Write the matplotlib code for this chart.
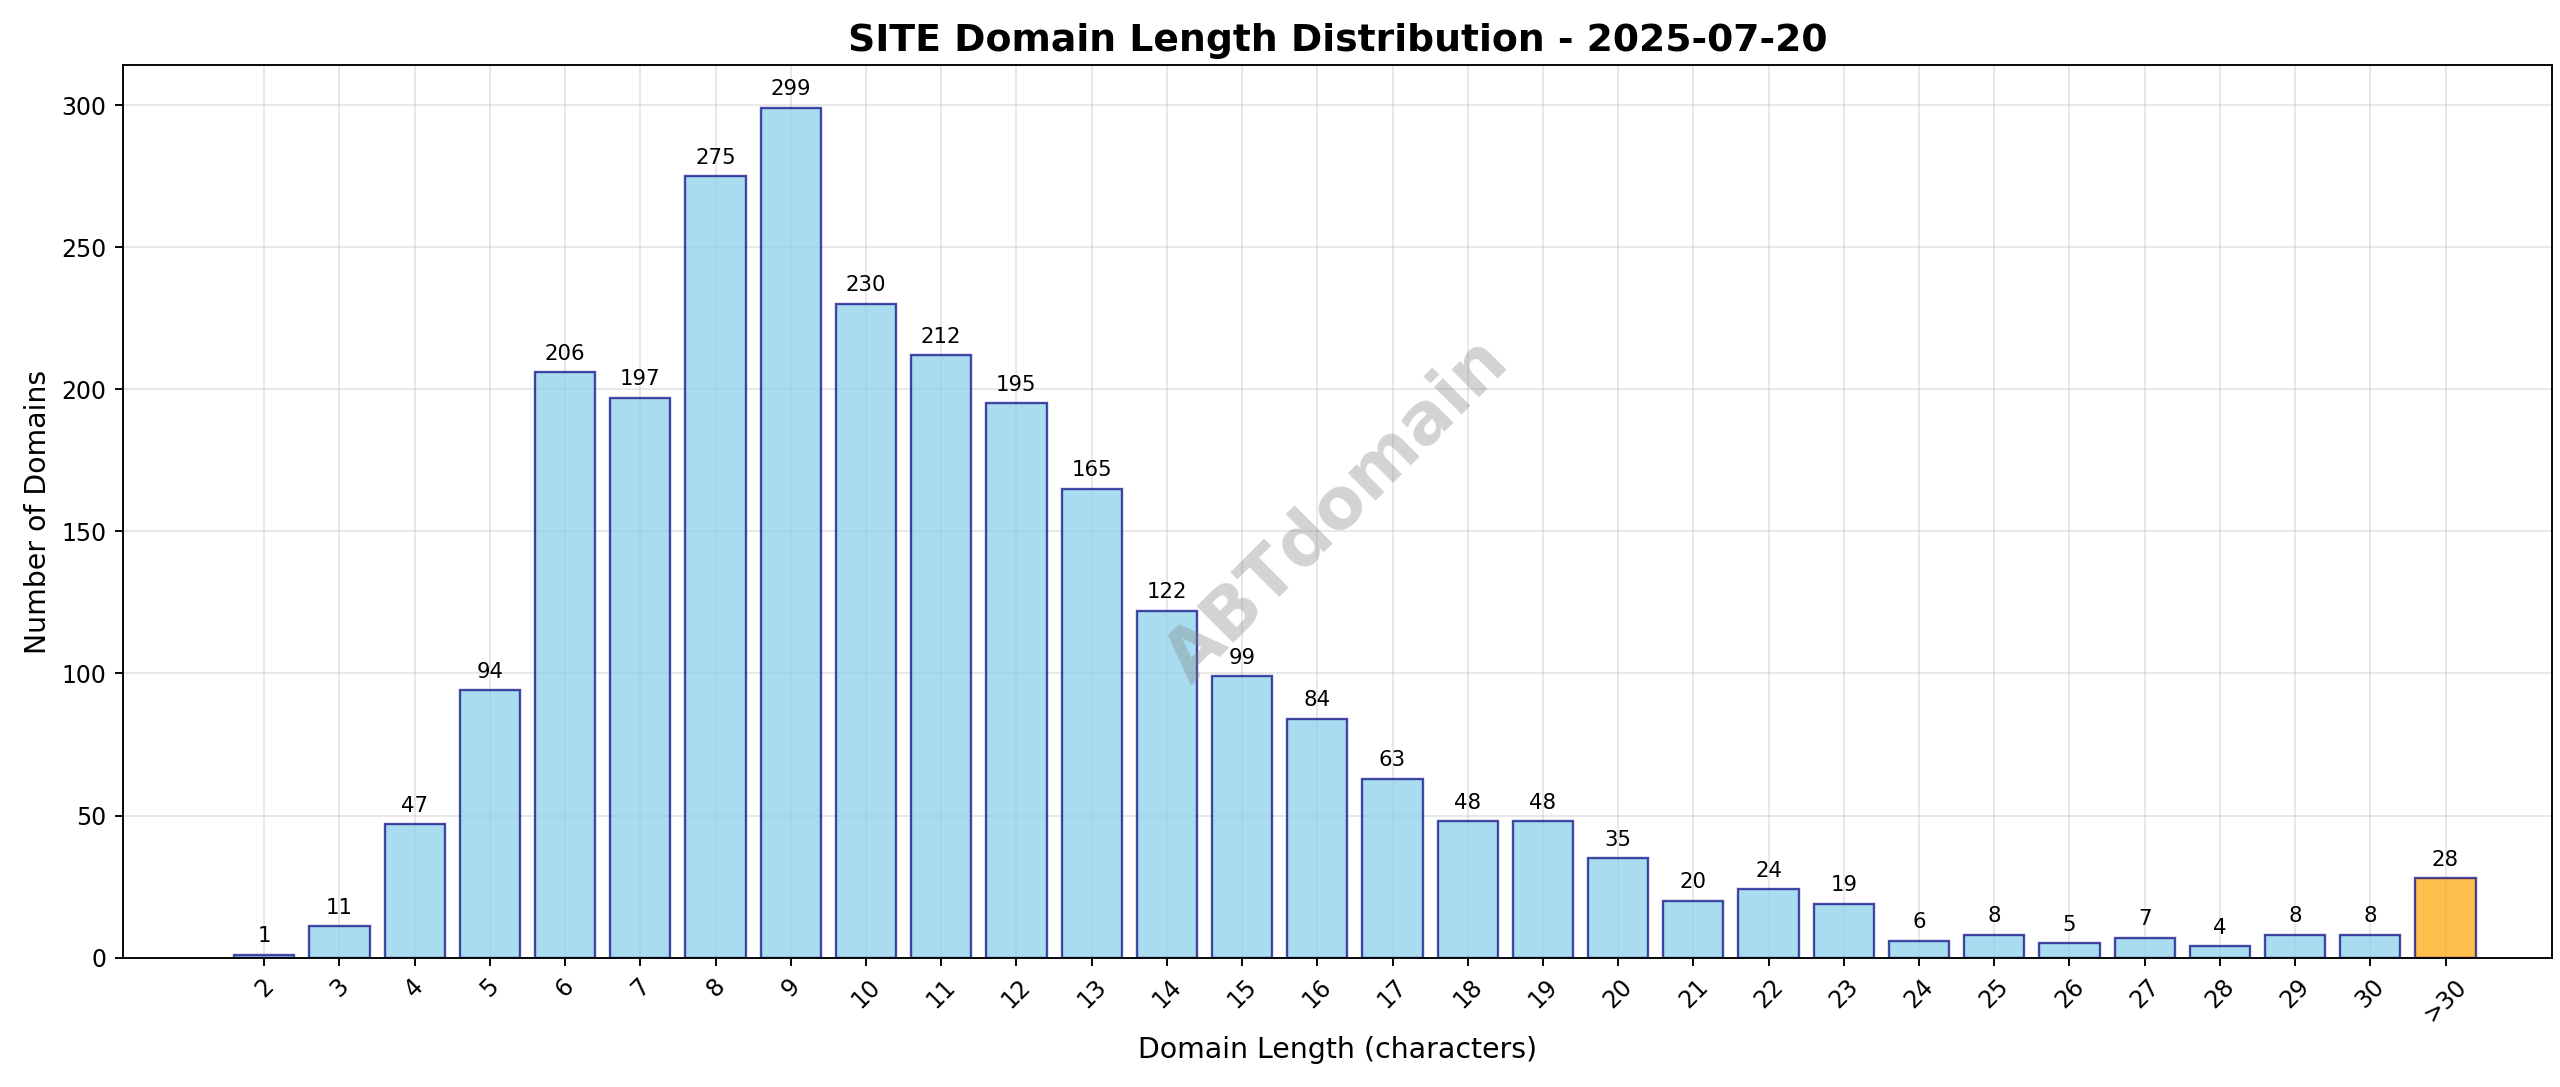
import matplotlib
matplotlib.use("Agg")
import matplotlib.pyplot as plt

labels = [str(i) for i in range(2, 31)] + [">30"]
counts = [1, 11, 47, 94, 206, 197, 275, 299, 230, 212, 195, 165, 122, 99, 84, 63, 48, 48, 35, 20, 24, 19, 6, 8, 5, 7, 4, 8, 8, 28]

fig = plt.figure(figsize=(2560/170, 1087/170), dpi=170)
ax = fig.add_axes([0.048, 0.119, 0.949, 0.821])
x = list(range(len(labels)))
colors = ["skyblue"] * (len(labels) - 1) + ["orange"]
bars = ax.bar(x, counts, width=0.8, color=colors, alpha=0.7, edgecolor="navy", linewidth=1.0)
for b, c in zip(bars, counts):
    ax.text(b.get_x() + b.get_width()/2, c + 3, str(c), ha="center", va="bottom", fontsize=9)
ax.set_xticks(x)
ax.set_xticklabels(labels, rotation=45)
ax.set_xlim(-1.88, 30.42)
ax.set_ylim(0, 314)
ax.grid(True, alpha=0.3)
ax.set_axisbelow(True)
ax.set_title("SITE Domain Length Distribution - 2025-07-20", fontsize=16, fontweight="bold")
ax.set_xlabel("Domain Length (characters)", fontsize=12)
ax.set_ylabel("Number of Domains", fontsize=12)
ax.text(0.5, 0.5, "ABTdomain", transform=ax.transAxes, fontsize=30, fontweight="bold",
        color="gray", alpha=0.35, rotation=45, ha="center", va="center")
fig.savefig("out.png", dpi=170)
